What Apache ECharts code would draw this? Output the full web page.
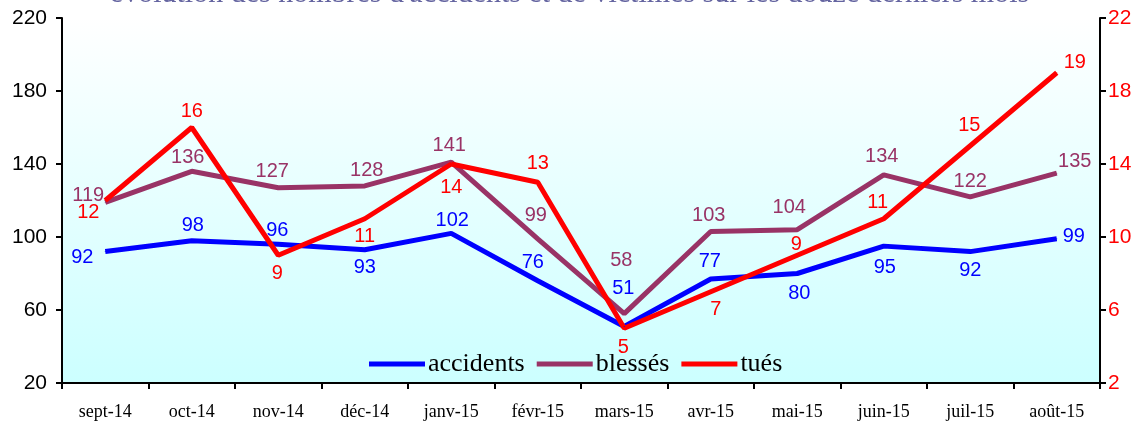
<!DOCTYPE html>
<html>
<head>
<meta charset="utf-8">
<script src="https://cdn.jsdelivr.net/npm/echarts@6/dist/echarts.min.js"></script>
<style>
  html, body { margin: 0; padding: 0; background: #fff; }
  #main { width: 1139px; height: 423px; }
</style>
</head>
<body>
<div id="main"></div>
<script>
// données
var mois = ['sept-14', 'oct-14', 'nov-14', 'déc-14', 'janv-15', 'févr-15', 'mars-15', 'avr-15', 'mai-15', 'juin-15', 'juil-15', 'août-15'];
var accidents = [92, 98, 96, 93, 102, 76, 51, 77, 80, 95, 92, 99];
var blesses = [119, 136, 127, 128, 141, 99, 58, 103, 104, 134, 122, 135];
var tues = [12, 16, 9, 11, 14, 13, 5, 7, 9, 11, 15, 19];

// décalage des étiquettes par rapport au point [dx, dy] (placement comme dans l'original)
var decAccidents = [[-23, 6], [1, -15], [-1, -14], [0, 18], [1, -13], [-5, -18], [-1, -38], [-1, -17], [2, 20], [1, 21], [0, 19], [17, -2]];
var decBlesses = [[-17, -7], [-4, -14], [-6, -16], [2, -15], [-2, -17], [-2, -23], [-3, -53], [-2, -16], [-8, -22], [-2, -18], [0, -15], [18, -12]];
var decTues = [[-17, 12], [0, -16], [-1, 18], [0, 18], [0, 23], [0, -19], [-1, 19], [5, 18], [-1, -11], [-6, -16], [-1, -20], [18, -10]];

function withLabels(values, offsets) {
    return values.map(function (v, i) {
        return { value: v, label: { offset: offsets[i] } };
    });
}

var myChart = echarts.init(document.getElementById('main'));

function serie(name, values, offsets, color, axis) {
    return {
        name: name,
        type: 'line',
        yAxisIndex: axis,
        symbol: 'circle',
        symbolSize: 1,
        showSymbol: true,
        showAllSymbol: true,
        itemStyle: { color: color },
        lineStyle: { width: 5, color: color },
        label: {
            show: true,
            position: 'inside',
            color: color,
            fontFamily: 'Liberation Sans, Arial',
            fontSize: 20
        },
        emphasis: { disabled: true },
        data: withLabels(values, offsets)
    };
}

var option = {
    animation: false,
    title: {
        text: "évolution des nombres d'accidents et de victimes sur les douze derniers mois",
        left: 'center',
        top: -26,
        textStyle: {
            fontFamily: 'Liberation Serif, Times New Roman',
            fontWeight: 'normal',
            fontSize: 30,
            color: '#6464a0'
        }
    },
    grid: {
        left: 62,
        right: 39,
        top: 18,
        bottom: 40,
        show: true,
        borderWidth: 0,
        backgroundColor: new echarts.graphic.LinearGradient(0, 0, 0, 1, [
            { offset: 0, color: '#ffffff' },
            { offset: 1, color: '#ccffff' }
        ])
    },
    legend: {
        bottom: 41,
        left: 364,
        itemWidth: 56,
        itemHeight: 5,
        itemGap: 12,
        icon: 'rect',
        textStyle: {
            fontFamily: 'Liberation Serif, Times New Roman',
            fontSize: 26,
            color: '#000',
            padding: [0, 0, 0, -2]
        },
        data: ['accidents', 'blessés', 'tués']
    },
    xAxis: {
        type: 'category',
        data: mois,
        boundaryGap: true,
        axisLine: { lineStyle: { color: '#000', width: 2 } },
        axisTick: { show: true, alignWithLabel: false, length: 6, lineStyle: { color: '#000', width: 2 } },
        axisLabel: {
            margin: 20,
            color: '#000',
            fontFamily: 'Liberation Serif, Times New Roman',
            fontSize: 18
        }
    },
    yAxis: [
        {
            type: 'value',
            min: 20,
            max: 220,
            interval: 40,
            splitLine: { show: false },
            axisLine: { show: true, lineStyle: { color: '#000', width: 2 } },
            axisTick: { show: true, length: 6, lineStyle: { color: '#000', width: 2 } },
            axisLabel: { color: '#000', fontFamily: 'Liberation Sans, Arial', fontSize: 21, margin: 15 }
        },
        {
            type: 'value',
            min: 2,
            max: 22,
            interval: 4,
            splitLine: { show: false },
            axisLine: { show: true, lineStyle: { color: '#000', width: 2 } },
            axisTick: { show: true, length: 6, lineStyle: { color: '#000', width: 2 } },
            axisLabel: { color: '#ff0000', fontFamily: 'Liberation Sans, Arial', fontSize: 21, margin: 8 }
        }
    ],
    series: [
        serie('accidents', accidents, decAccidents, '#0000ff', 0),
        serie('blessés', blesses, decBlesses, '#993366', 0),
        serie('tués', tues, decTues, '#ff0000', 1)
    ]
};

myChart.setOption(option);
</script>
</body>
</html>
